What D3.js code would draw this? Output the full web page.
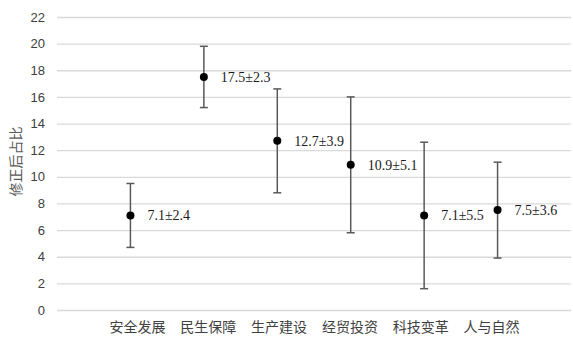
<!DOCTYPE html>
<html lang="zh">
<head>
    <meta charset="UTF-8">
    <title>修正后占比</title>
    <script src="https://d3js.org/d3.v7.min.js"></script>
    <style>
        body {
            margin: 0;
            padding: 0;
            background-color: #ffffff;
        }
    </style>
</head>
<body>
    <div id="chart"></div>
    <script>
        // chart data
        var categories = ["安全发展", "民生保障", "生产建设", "经贸投资", "科技变革", "人与自然"];
        var means = [7.1, 17.5, 12.7, 10.9, 7.1, 7.5];
        var sds = [2.4, 2.3, 3.9, 5.1, 5.5, 3.6];
        var yTicks = [0, 2, 4, 6, 8, 10, 12, 14, 16, 18, 20, 22];

        var width = 573, height = 337;
        var plot = { left: 57, right: 571, top: 17, bottom: 310 };

        var svg = d3.select("#chart")
            .append("svg")
            .attr("width", width)
            .attr("height", height);

        // points sit on a hidden 0..7 axis, like an Excel scatter
        var x = d3.scaleLinear()
            .domain([0, 7])
            .range([plot.left, plot.right]);

        var y = d3.scaleLinear()
            .domain([0, 22])
            .range([plot.bottom, plot.top]);

        // category labels are a separate row below the plot
        var xLabel = d3.scalePoint()
            .domain(categories)
            .range([137.5, 491.5]);

        // grid + y axis
        var yAxis = svg.append("g")
            .attr("transform", "translate(" + plot.left + ",0)")
            .call(d3.axisLeft(y).tickValues(yTicks).tickSize(-(plot.right - plot.left)).tickPadding(12));

        yAxis.select(".domain").remove();
        yAxis.selectAll(".tick line")
            .attr("stroke", "#d9d9d9")
            .attr("stroke-width", 1.3);
        yAxis.selectAll(".tick text")
            .attr("fill", "#404040")
            .style("font-family", "'Liberation Sans', Arial, sans-serif")
            .style("font-size", "13px");

        // y title
        svg.append("text")
            .attr("transform", "translate(16," + 161.5 + ") rotate(-90)")
            .attr("text-anchor", "middle")
            .attr("dy", "0.35em")
            .attr("fill", "#595959")
            .style("font-family", "'Noto Sans CJK SC', sans-serif")
            .style("font-size", "14px")
            .text("修正后占比");

        // category labels
        svg.selectAll(".cat")
            .data(categories)
            .enter()
            .append("text")
            .attr("class", "cat")
            .attr("x", function (d) { return xLabel(d); })
            .attr("y", 327)
            .attr("dy", "0.35em")
            .attr("text-anchor", "middle")
            .attr("fill", "#404040")
            .style("font-family", "'Noto Sans CJK SC', sans-serif")
            .style("font-size", "14px")
            .text(function (d) { return d; });

        var rows = categories.map(function (c, i) {
            return { cat: c, idx: i + 1, mean: means[i], sd: sds[i] };
        });

        // error bars
        var bars = svg.selectAll(".err")
            .data(rows)
            .enter()
            .append("g")
            .attr("class", "err")
            .attr("stroke", "#595959")
            .attr("stroke-width", 1.5);

        bars.append("line")
            .attr("x1", function (d) { return x(d.idx); })
            .attr("x2", function (d) { return x(d.idx); })
            .attr("y1", function (d) { return y(d.mean - d.sd); })
            .attr("y2", function (d) { return y(d.mean + d.sd); });

        bars.append("line")
            .attr("x1", function (d) { return x(d.idx) - 4; })
            .attr("x2", function (d) { return x(d.idx) + 4; })
            .attr("y1", function (d) { return y(d.mean + d.sd); })
            .attr("y2", function (d) { return y(d.mean + d.sd); });

        bars.append("line")
            .attr("x1", function (d) { return x(d.idx) - 4; })
            .attr("x2", function (d) { return x(d.idx) + 4; })
            .attr("y1", function (d) { return y(d.mean - d.sd); })
            .attr("y2", function (d) { return y(d.mean - d.sd); });

        // points
        svg.selectAll(".pt")
            .data(rows)
            .enter()
            .append("circle")
            .attr("class", "pt")
            .attr("cx", function (d) { return x(d.idx); })
            .attr("cy", function (d) { return y(d.mean); })
            .attr("r", 4)
            .attr("fill", "#000000");

        // value labels
        svg.selectAll(".val")
            .data(rows)
            .enter()
            .append("text")
            .attr("class", "val")
            .attr("x", function (d) { return x(d.idx) + 17; })
            .attr("y", function (d) { return y(d.mean); })
            .attr("dy", "0.35em")
            .attr("fill", "#1a1a1a")
            .style("font-family", "'Liberation Serif', 'Times New Roman', serif")
            .style("font-size", "14px")
            .text(function (d) { return d.mean.toFixed(1) + "±" + d.sd.toFixed(1); });
    </script>
</body>
</html>
